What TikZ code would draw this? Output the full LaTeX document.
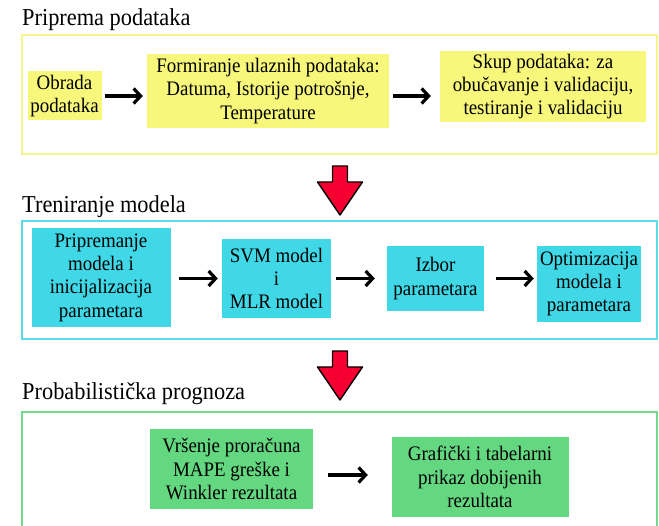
\documentclass[tikz,border=0pt]{standalone}
\usepackage{fontspec}
\setmainfont[FakeStretch=0.92]{Liberation Serif}
\usetikzlibrary{arrows.meta}
\definecolor{StepYellow}{HTML}{F7F77C}
\definecolor{FrameYellow}{HTML}{F5F58A}
\definecolor{StepCyan}{HTML}{40D8E6}
\definecolor{FrameCyan}{HTML}{5ADDEB}
\definecolor{StepGreen}{HTML}{64D880}
\definecolor{FrameGreen}{HTML}{70DC8C}
\definecolor{DropRed}{HTML}{F50030}
\newcommand{\DropArrow}[1]{%
  \draw[drop] (#1) ++(-7.5,0) -- ++(15,0) -- ++(0,16) -- ++(15,0) -- ++(-22.5,33)
    -- ++(-22.5,-33) -- ++(15,0) -- cycle;%
}
\tikzset{
  figure/.style={x=1pt,y=-1pt,font=\fontsize{20.6}{23.3}\selectfont},
  stage/.style={line width=2pt,minimum width=635pt},
  stagetitle/.style={anchor=base west,inner sep=0pt,font=\fontsize{24.3}{27}\selectfont},
  stepbox/.style={align=center,inner sep=2pt},
  flow/.style={-{Straight Barb[length=7pt,width=15pt]},line width=3.2pt},
  drop/.style={fill=DropRed,draw=black,line width=1.4pt,line join=round},
}

\begin{document}
\begin{tikzpicture}[figure]
  \useasboundingbox (0,0) rectangle (659,526);

  % stage frames
  \node[stage,draw=FrameYellow,minimum height=119pt] (prep) at (339.5,94.5) {};
  \node[stage,draw=FrameCyan,minimum height=118pt] (train) at (339.5,280) {};
  \node[stage,draw=FrameGreen,minimum height=118pt] (prob) at (339.5,471) {};

  \node[stagetitle] (preptitle) at (22,26) {Priprema podataka};
  \node[stagetitle] (traintitle) at (22,213) {Treniranje modela};
  \node[stagetitle] (probtitle) at (22,400) {Probabilistička prognoza};

  % priprema
  \node[stepbox,fill=StepYellow,minimum width=74pt,minimum height=49pt] (obrada) at (64.5,96)
    {Obrada\\podataka};
  \node[stepbox,fill=StepYellow,minimum width=242pt,minimum height=74pt] (formiranje) at (268,91)
    {Formiranje ulaznih podataka:\\Datuma, Istorije potrošnje,\\Temperature};
  \node[stepbox,fill=StepYellow,minimum width=206pt,minimum height=71pt] (skup) at (543,86.5)
    {Skup podataka: za\\obučavanje i validaciju,\\testiranje i validaciju};

  \draw[flow,shorten <=3pt,shorten >=4pt] (obrada.east) -- (obrada.east -| formiranje.west);
  \draw[flow,shorten <=4pt,shorten >=9pt] (formiranje.east |- obrada.east) -- (skup.west |- obrada.east);

  % treniranje
  \node[stepbox,fill=StepCyan,minimum width=139pt,minimum height=99pt] (priprem) at (101,277.5)
    {Pripremanje\\modela i\\inicijalizacija\\parametara};
  \node[stepbox,fill=StepCyan,minimum width=109pt,minimum height=79pt] (svm) at (276.5,278.5)
    {SVM model\\i\\MLR model};
  \node[stepbox,fill=StepCyan,minimum width=97pt,minimum height=65pt] (izbor) at (435.5,278.5)
    {Izbor\\parametara};
  \node[stepbox,fill=StepCyan,minimum width=104pt,minimum height=76pt] (optim) at (589,284)
    {Optimizacija\\modela i\\parametara};

  \draw[flow,shorten <=8pt,shorten >=4pt] (priprem.east |- svm.west) -- (svm.west);
  \draw[flow,shorten <=5pt,shorten >=12pt] (svm.east) -- (izbor.west);
  \draw[flow,shorten <=12pt,shorten >=3pt] (izbor.east) -- (izbor.east -| optim.west);

  % prognoza
  \node[stepbox,fill=StepGreen,minimum width=163pt,minimum height=80pt] (vrsenje) at (231.5,469)
    {Vršenje proračuna\\MAPE greške i\\Winkler rezultata};
  \node[stepbox,fill=StepGreen,minimum width=177pt,minimum height=80pt] (prikaz) at (480,477)
    {Grafički i tabelarni\\prikaz dobijenih\\rezultata};

  \draw[flow,shorten <=15pt,shorten >=23.5pt] ([yshift=-6pt]vrsenje.east) -- ([yshift=-6pt]vrsenje.east -| prikaz.west);

  % veze izmedju faza
  \coordinate (drop1) at (340,166);
  \coordinate (drop2) at (340,351);
  \DropArrow{drop1}
  \DropArrow{drop2}
\end{tikzpicture}
\end{document}
